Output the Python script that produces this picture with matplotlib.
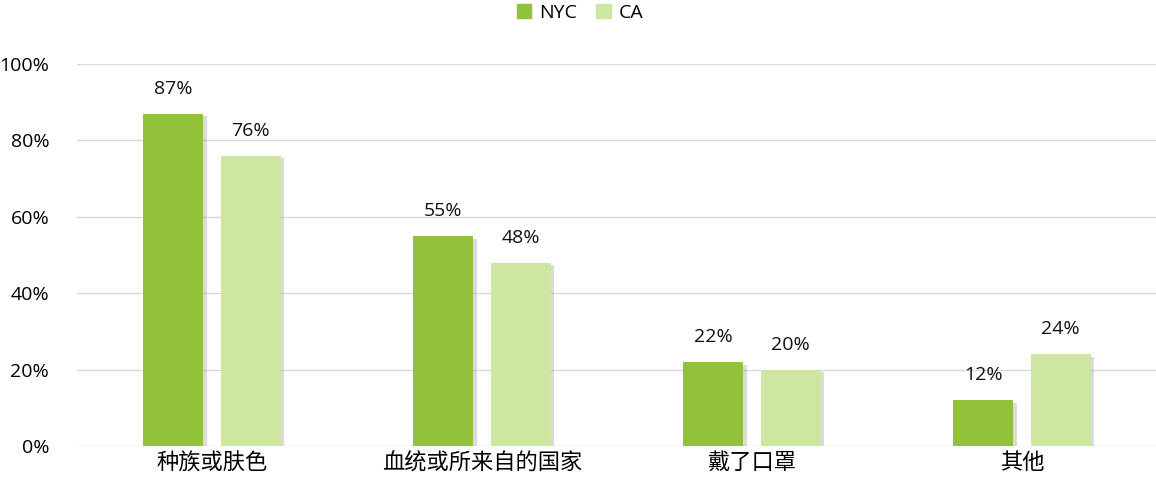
import matplotlib
matplotlib.use("Agg")
import matplotlib.pyplot as plt
import matplotlib.patheffects as pe
from matplotlib.patches import Patch
import numpy as np

plt.rcParams['font.family'] = ['Open Sans', 'Noto Sans CJK SC', 'DejaVu Sans']

categories = ["种族或肤色", "血统或所来自的国家", "戴了口罩", "其他"]
nyc = [87, 55, 22, 12]
ca = [76, 48, 20, 24]
series_names = ["NYC", "CA"]
colors = ["#92C13A", "#CDE6A2"]

fig = plt.figure(figsize=(11.56, 4.93), dpi=100)
ax = fig.add_axes([77 / 1156, 47 / 493, 1080 / 1156, 382 / 493])

x = np.arange(len(categories))
w = 0.222
off = 0.143
shadow = [pe.SimplePatchShadow(offset=(2.5, -2), shadow_rgbFace="#888888", alpha=0.3), pe.Normal()]

for vals, dx, col in [(nyc, -off, colors[0]), (ca, off, colors[1])]:
    bars = ax.bar(x + dx, vals, w, color=col, zorder=3)
    for b in bars:
        b.set_path_effects(shadow)
    for xi, v in zip(x + dx, vals):
        ax.text(xi, v + 4.2, f"{v}%", ha="center", va="bottom", fontsize=14, color="#111111")

ax.set_xlim(-0.5, len(categories) - 0.5)
ax.set_ylim(0, 100)
ax.set_yticks(range(0, 101, 20))
ax.set_yticklabels([f"{t}%" for t in range(0, 101, 20)], fontsize=14)
ax.set_xticks(x)
ax.set_xticklabels(categories, fontsize=16)
ax.grid(axis="y", color="#D9D9D9", linewidth=1, zorder=0)
for s in ax.spines.values():
    s.set_visible(False)
ax.tick_params(length=0)
ax.tick_params(axis="y", pad=20)
ax.tick_params(axis="x", pad=5)

handles = [Patch(color=c, label=n) for c, n in zip(colors, series_names)]
fig.legend(handles=handles, loc="center", bbox_to_anchor=(580 / 1156, 1 - 13 / 493), ncol=2, frameon=False,
           fontsize=14, handlelength=0.75, handleheight=0.75, columnspacing=1.0, handletextpad=0.4)

fig.savefig("out.png", dpi=100)
